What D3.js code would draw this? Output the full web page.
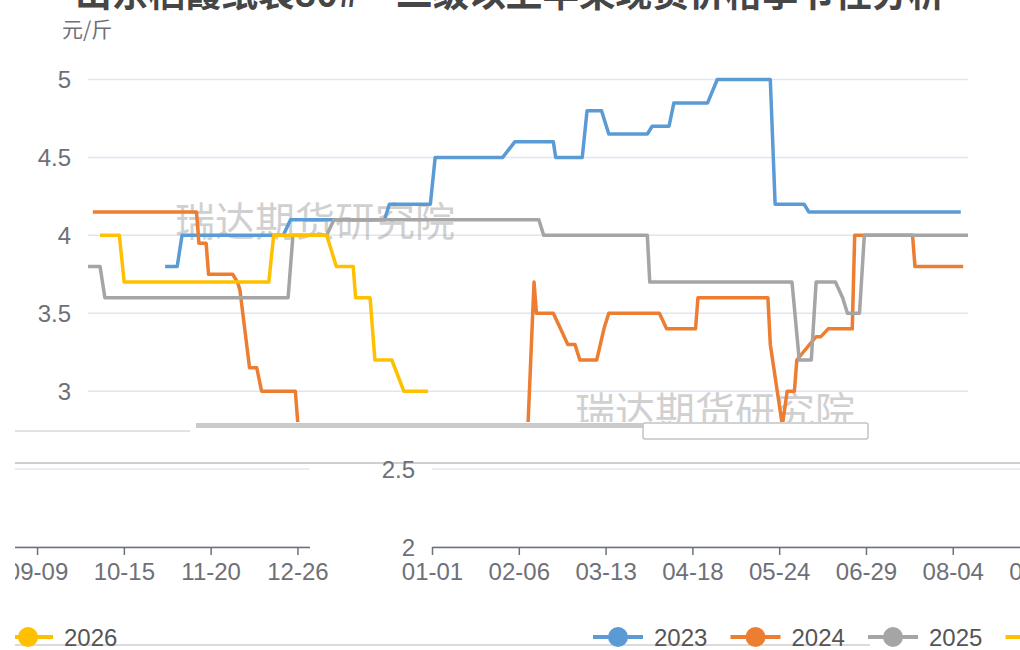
<!DOCTYPE html>
<html>
<head>
<meta charset="utf-8">
<script src="https://cdn.jsdelivr.net/npm/d3@7"></script>
<style>
  body { margin: 0; background: #fff; }
  svg { display: block; }
</style>
</head>
<body>
<svg width="1020" height="650"></svg>
<script>
// chart values
var years = ["2023", "2024", "2025", "2026"];
var colors = ["#5B9BD5", "#ED7D31", "#A5A5A5", "#FFC000"];
var tickLabels = ["01-01", "02-06", "03-13", "04-18", "05-24", "06-29",
                  "08-04", "09-09", "10-15", "11-20", "12-26"];
var yTicks = [2, 2.5, 3, 3.5, 4, 4.5, 5];

var s2023 = [["02-02", 3.8], ["02-07", 3.8], ["02-09", 4.0], ["03-22", 4.0], ["03-25", 4.1],
             ["05-03", 4.1], ["05-05", 4.2], ["05-22", 4.2], ["05-24", 4.5], ["06-21", 4.5],
             ["06-26", 4.6], ["07-12", 4.6], ["07-13", 4.5], ["07-24", 4.5], ["07-26", 4.8],
             ["08-01", 4.8], ["08-04", 4.65], ["08-20", 4.65], ["08-22", 4.7], ["08-29", 4.7],
             ["08-31", 4.85], ["09-14", 4.85], ["09-18", 5.0], ["10-10", 5.0], ["10-12", 4.2],
             ["10-24", 4.2], ["10-26", 4.15], ["12-28", 4.15]];
var s2024 = [["01-03", 4.15], ["02-15", 4.15], ["02-16", 3.95], ["02-19", 3.95], ["02-20", 3.75],
             ["03-01", 3.75], ["03-03", 3.7], ["03-04", 3.65], ["03-08", 3.15], ["03-11", 3.15],
             ["03-13", 3.0], ["03-27", 3.0], ["03-29", 2.6], ["07-01", 2.6], ["07-04", 3.7],
             ["07-05", 3.5], ["07-12", 3.5], ["07-15", 3.4], ["07-18", 3.3], ["07-21", 3.3],
             ["07-23", 3.2], ["07-30", 3.2], ["08-02", 3.4], ["08-04", 3.5], ["08-25", 3.5],
             ["08-28", 3.4], ["09-09", 3.4], ["09-10", 3.6], ["10-09", 3.6], ["10-10", 3.3],
             ["10-15", 2.78], ["10-17", 3.0], ["10-20", 3.0], ["10-21", 3.2], ["10-29", 3.35],
             ["10-31", 3.35], ["11-03", 3.4], ["11-13", 3.4], ["11-14", 4.0], ["12-08", 4.0],
             ["12-09", 3.8], ["12-29", 3.8]];
var s2025 = [["01-01", 3.8], ["01-06", 3.8], ["01-08", 3.6], ["03-24", 3.6], ["03-26", 4.0],
             ["04-09", 4.0], ["04-12", 4.1], ["07-06", 4.1], ["07-08", 4.0], ["08-20", 4.0],
             ["08-21", 3.7], ["10-19", 3.7], ["10-22", 3.2], ["10-27", 3.2], ["10-29", 3.7],
             ["11-06", 3.7], ["11-09", 3.6], ["11-11", 3.5], ["11-16", 3.5], ["11-18", 4.0],
             ["12-31", 4.0]];
var s2026 = [["01-06", 4.0], ["01-14", 4.0], ["01-16", 3.7], ["03-16", 3.7], ["03-18", 4.0],
             ["04-09", 4.0], ["04-13", 3.8], ["04-20", 3.8], ["04-21", 3.6], ["04-27", 3.6],
             ["04-29", 3.2], ["05-06", 3.2], ["05-11", 3.0], ["05-21", 3.0]];
var seriesList = [s2023, s2024, s2025, s2026];

var svg = d3.select("svg");
var numFont = "'Liberation Sans', Arial, sans-serif";
var cjkFont = "'Noto Sans CJK SC', sans-serif";

// leap year so 02-29 has a slot
var parse = function(md) { return d3.timeParse("%Y-%m-%d")("2000-" + md); };
var x = d3.scaleTime()
    .domain([new Date(2000, 0, 1), new Date(2000, 11, 31)])
    .range([88, 968]);
var y = d3.scaleLinear().domain([2, 5]).range([547, 79.5]);

// the screenshot is torn: lower strip is shifted sideways and wraps round
var cut = 422, shift = 344, wrapW = 1002.5;

var defs = svg.append("defs");
defs.append("clipPath").attr("id", "clipTop")
    .append("rect").attr("x", 0).attr("y", 0).attr("width", 1020).attr("height", cut);
defs.append("clipPath").attr("id", "clipBottom")
    .append("rect").attr("x", 15).attr("y", cut).attr("width", 1005).attr("height", 650 - cut);

// leftovers of the torn strip
var junk = svg.append("g");
junk.append("line").attr("x1", 15).attr("x2", 1020).attr("y1", 463).attr("y2", 463)
    .attr("stroke", "#cfcfcf").attr("stroke-width", 2);
junk.append("line").attr("x1", 15).attr("x2", 870).attr("y1", 645).attr("y2", 645)
    .attr("stroke", "#cfcfcf").attr("stroke-width", 1.5);
junk.append("rect").attr("x", 196).attr("y", 423).attr("width", 448).attr("height", 5)
    .attr("fill", "#cacaca");
junk.append("line").attr("x1", 15).attr("x2", 190).attr("y1", 431).attr("y2", 431)
    .attr("stroke", "#d8d8d8").attr("stroke-width", 1.5);
junk.append("rect").attr("x", 643).attr("y", 423).attr("width", 225).attr("height", 16)
    .attr("fill", "#fff").attr("stroke", "#c4c4c4").attr("stroke-width", 1.5).attr("rx", 2);

// visible on screen once shifted by dx?
function seen(px, dx) { var p = px + dx; return p > -20 && p < 1040; }

function drawGrid(g, vals, dx) {
    g.selectAll(".grid").data(vals).enter().append("line")
        .attr("x1", 88).attr("x2", 968)
        .attr("y1", function(d) { return y(d); })
        .attr("y2", function(d) { return y(d); })
        .attr("stroke", "#E0E6F1").attr("stroke-width", 1.5);
    g.selectAll(".ylab").data(vals.filter(function() { return seen(60, dx); }))
        .enter().append("text")
        .attr("x", 71)
        .attr("y", function(d) { return y(d); })
        .attr("dy", "0.36em")
        .attr("text-anchor", "end")
        .attr("font-family", numFont).attr("font-size", "24px").attr("fill", "#6E7079")
        .text(function(d) { return d; });
}

function drawBottom(g, dx) {
    drawGrid(g, yTicks.filter(function(v) { return v < 3; }), dx);
    g.selectAll(".grid").filter(function(d) { return d === 2; }).remove();

    var ticks = tickLabels.map(parse).filter(function(d) { return seen(x(d), dx); });
    var ax = g.append("g")
        .attr("transform", "translate(0," + y(2) + ")")
        .call(d3.axisBottom(x)
            .tickValues(ticks)
            .tickFormat(d3.timeFormat("%m-%d"))
            .tickSize(8).tickSizeOuter(0).tickPadding(8));
    ax.select(".domain").attr("stroke", "#6E7079").attr("stroke-width", 1.5);
    ax.selectAll(".tick line").attr("stroke", "#6E7079").attr("stroke-width", 1.5);
    ax.selectAll(".tick text")
        .attr("font-family", numFont).attr("font-size", "24px").attr("fill", "#6E7079");

    var items = years.map(function(yr, i) { return { name: yr, i: i, x0: 249 + i * 137.5 }; })
        .filter(function(d) { return seen(d.x0 + 25, dx); });
    var leg = g.selectAll(".leg").data(items).enter().append("g")
        .attr("transform", function(d) { return "translate(" + d.x0 + ",637)"; });
    leg.append("line").attr("x1", 0).attr("x2", 50)
        .attr("stroke", function(d) { return colors[d.i]; }).attr("stroke-width", 4);
    leg.append("circle").attr("cx", 25).attr("r", 10)
        .attr("fill", function(d) { return colors[d.i]; });
    leg.append("text").attr("x", 61).attr("dy", "0.36em")
        .attr("font-family", numFont).attr("font-size", "24px").attr("fill", "#555")
        .text(function(d) { return d.name; });
}

// upper strip, in place
var topG = svg.append("g").attr("clip-path", "url(#clipTop)");

topG.append("text")
    .attr("x", 510).attr("y", 7)
    .attr("text-anchor", "middle")
    .attr("font-family", cjkFont).attr("font-weight", "bold")
    .attr("font-size", "37px").attr("fill", "#464646")
    .attr("textLength", 870).attr("lengthAdjust", "spacingAndGlyphs")
    .text("山东栖霞纸袋80#一二级以上苹果现货价格季节性分析");
topG.append("text")
    .attr("x", 62).attr("y", 37)
    .attr("font-family", cjkFont).attr("font-size", "21px").attr("fill", "#6E7079")
    .text("元/斤");

drawGrid(topG, yTicks.filter(function(v) { return v >= 3; }), 0);

topG.selectAll(".wm").data([[175, 236], [575, 426]]).enter().append("text")
    .attr("x", function(d) { return d[0]; })
    .attr("y", function(d) { return d[1]; })
    .attr("font-family", cjkFont).attr("font-size", "40px")
    .attr("fill", "#999").attr("opacity", 0.45)
    .text("瑞达期货研究院");

var line = d3.line()
    .x(function(d) { return x(parse(d[0])); })
    .y(function(d) { return y(d[1]); });

topG.selectAll(".series").data(seriesList).enter().append("path")
    .attr("d", line)
    .attr("fill", "none")
    .attr("stroke", function(d, i) { return colors[i]; })
    .attr("stroke-width", 3.5)
    .attr("stroke-linejoin", "round");

// lower strip, shifted and wrapped
var bottomG = svg.append("g").attr("clip-path", "url(#clipBottom)");
[shift, shift - wrapW].forEach(function(dx) {
    drawBottom(bottomG.append("g").attr("transform", "translate(" + dx + ",0)"), dx);
});
</script>
</body>
</html>
